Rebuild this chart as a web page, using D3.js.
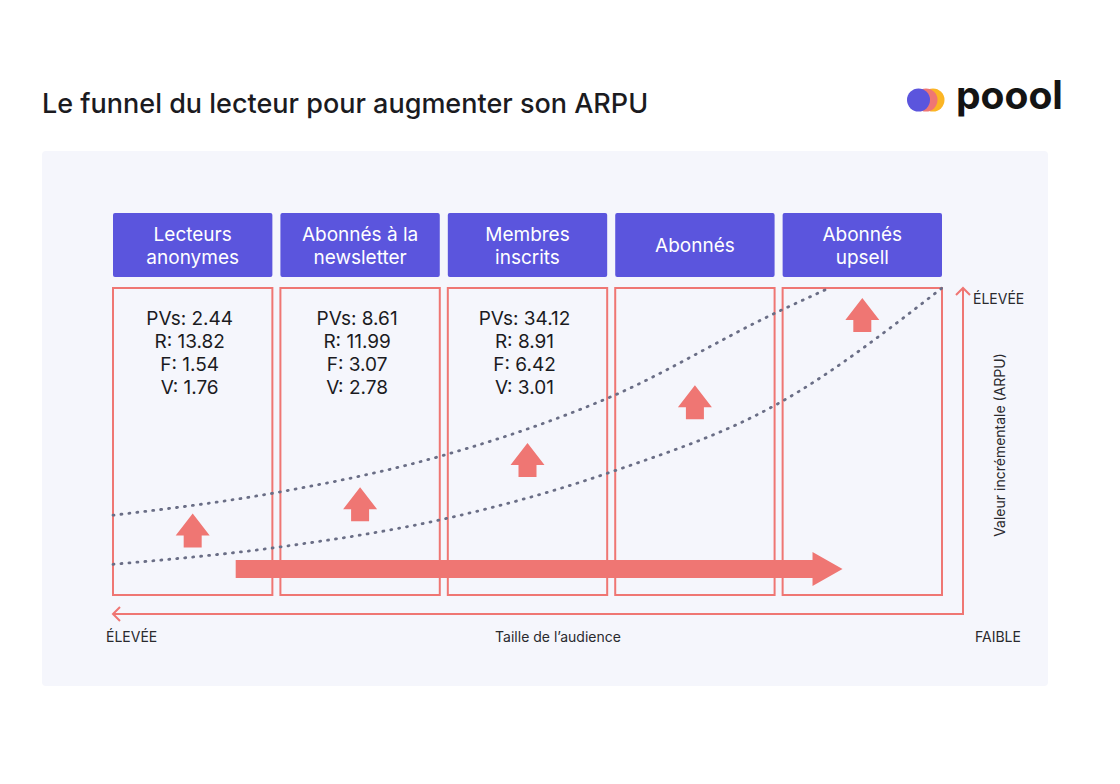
<!DOCTYPE html>
<html lang="fr">
<head>
<meta charset="UTF-8"/>
<title>Le funnel du lecteur</title>
<script src="https://cdn.jsdelivr.net/npm/d3@7"></script>
<style>
    body { margin: 0; background: #ffffff; }
    text { font-family: Inter, "Noto Sans", sans-serif; }
    .title { font-size: 27px; font-weight: 500; fill: #1b1b1f; }
    .stage { font-size: 19px; fill: #ffffff; }
    .metric { font-size: 19px; fill: #1b1b1f; }
    .axis-label { font-size: 14px; fill: #2a2a2e; }
    .curve { fill: none; stroke: #6a6e86; stroke-width: 2.8; stroke-linecap: round; stroke-dasharray: 1 7; }
</style>
</head>
<body>
<div id="chart"></div>
<script>
// stages of the funnel
var stageLines = [
    ["Lecteurs", "anonymes"],
    ["Abonnés à la", "newsletter"],
    ["Membres", "inscrits"],
    ["Abonnés"],
    ["Abonnés", "upsell"]
];
var pvs = [2.44, 8.61, 34.12, null, null];
var rec = [13.82, 11.99, 8.91, null, null];
var freq = [1.54, 3.07, 6.42, null, null];
var vol = [1.76, 2.78, 3.01, null, null];

// dotted ARPU curves (position in stages, value 0-100)
var upperPos = [0, 1, 2, 3, 4, 4.32];
var upperVal = [26, 33.5, 45.6, 64.5, 92, 100];
var lowerPos = [0, 1, 2, 3, 4, 5];
var lowerVal = [10, 15.6, 24.8, 40, 62, 100];

// up arrows, one per stage (center level)
var arrowVal = [21, 29.6, 44, 62.8, 91.2];

// horizontal flow arrow
var flowFrom = 0.74, flowTo = 4.4, flowLevel = 8.5;

var W = 1120, H = 784;
var red = "#ef7673", purple = "#5b55dd";

var svg = d3.select("#chart").append("svg")
    .attr("width", W).attr("height", H);

svg.append("text").attr("class", "title")
    .attr("x", 42).attr("y", 113)
    .text("Le funnel du lecteur pour augmenter son ARPU");

// logo
var logo = svg.append("g");
logo.append("circle").attr("cx", 933).attr("cy", 100).attr("r", 11.5).attr("fill", "#fbb524");
logo.append("circle").attr("cx", 926).attr("cy", 100).attr("r", 11.5).attr("fill", "#ef7673");
logo.append("circle").attr("cx", 918.5).attr("cy", 100).attr("r", 11.5).attr("fill", "#5b55dd");
logo.append("text").attr("x", 956).attr("y", 109)
    .style("font-size", "39px").style("font-weight", 700).style("fill", "#141414")
    .text("poool");

// panel
svg.append("rect").attr("x", 42).attr("y", 151).attr("width", 1006).attr("height", 535)
    .attr("rx", 4).attr("fill", "#f5f6fc");

var x = d3.scaleBand().domain(d3.range(stageLines.length))
    .range([113, 942]).paddingInner(0.048).paddingOuter(0);
var pos = d3.scaleLinear().domain([0, 5]).range([113, 942]);
var y = d3.scaleLinear().domain([0, 100]).range([595, 288]);

// header boxes
var head = svg.selectAll("g.head").data(stageLines).enter().append("g").attr("class", "head");
head.append("rect")
    .attr("x", function(d, i) { return x(i); })
    .attr("y", 213)
    .attr("width", x.bandwidth()).attr("height", 64)
    .attr("rx", 2).attr("fill", purple);
head.each(function(d, i) {
    var g = d3.select(this);
    var base = d.length == 1 ? 252 : 241;
    d.forEach(function(line, j) {
        g.append("text").attr("class", "stage")
            .attr("x", x(i) + x.bandwidth() / 2)
            .attr("y", base + j * 23)
            .attr("text-anchor", "middle")
            .text(line);
    });
});

// red boxes
svg.selectAll("rect.col").data(stageLines).enter().append("rect")
    .attr("class", "col")
    .attr("x", function(d, i) { return x(i); })
    .attr("y", y(100))
    .attr("width", x.bandwidth()).attr("height", y(0) - y(100))
    .attr("fill", "none").attr("stroke", red).attr("stroke-width", 2);

// metrics
var fmt = d3.format(".2f");
stageLines.forEach(function(d, i) {
    if (pvs[i] == null) return;
    var lines = ["PVs: " + fmt(pvs[i]), "R: " + fmt(rec[i]), "F: " + fmt(freq[i]), "V: " + fmt(vol[i])];
    lines.forEach(function(t, j) {
        svg.append("text").attr("class", "metric")
            .attr("x", x(i) + x.bandwidth() / 2 - 3)
            .attr("y", 325 + j * 23)
            .attr("text-anchor", "middle")
            .text(t);
    });
});

// dotted curves
var line = d3.line().curve(d3.curveMonotoneX)
    .x(function(d) { return pos(d[0]); })
    .y(function(d) { return y(d[1]); });
svg.append("path").attr("class", "curve").attr("d", line(d3.zip(upperPos, upperVal)));
svg.append("path").attr("class", "curve").attr("d", line(d3.zip(lowerPos, lowerVal)));

// up arrows
svg.selectAll("path.up").data(arrowVal).enter().append("path")
    .attr("class", "up")
    .attr("fill", red)
    .attr("d", function(v, i) {
        var cx = x(i) + x.bandwidth() / 2, cy = y(v);
        return "M" + cx + "," + (cy - 17) +
            "L" + (cx + 17) + "," + (cy + 5) +
            "L" + (cx + 9) + "," + (cy + 5) +
            "L" + (cx + 9) + "," + (cy + 17) +
            "L" + (cx - 9) + "," + (cy + 17) +
            "L" + (cx - 9) + "," + (cy + 5) +
            "L" + (cx - 17) + "," + (cy + 5) + "Z";
    });

// flow arrow
var fx0 = pos(flowFrom), fx1 = pos(flowTo), fy = y(flowLevel);
svg.append("path").attr("fill", red)
    .attr("d", "M" + fx0 + "," + (fy - 9) + "L" + (fx1 - 30) + "," + (fy - 9) +
        "L" + (fx1 - 30) + "," + (fy - 17) + "L" + fx1 + "," + fy +
        "L" + (fx1 - 30) + "," + (fy + 17) + "L" + (fx1 - 30) + "," + (fy + 9) +
        "L" + fx0 + "," + (fy + 9) + "Z");

// axes frame
var ax = 963, ay = 614;
svg.append("path").attr("fill", "none").attr("stroke", red).attr("stroke-width", 2)
    .attr("d", "M113," + ay + "L" + ax + "," + ay + "L" + ax + ",288");
svg.append("path").attr("fill", "none").attr("stroke", red).attr("stroke-width", 2)
    .attr("d", "M120," + (ay - 7) + "L113," + ay + "L120," + (ay + 7));
svg.append("path").attr("fill", "none").attr("stroke", red).attr("stroke-width", 2)
    .attr("d", "M" + (ax - 7) + ",295L" + ax + ",288L" + (ax + 7) + ",295");

svg.append("text").attr("class", "axis-label").attr("x", 973).attr("y", 304).text("ÉLEVÉE");
svg.append("text").attr("class", "axis-label").attr("x", 106).attr("y", 642).text("ÉLEVÉE");
svg.append("text").attr("class", "axis-label").attr("x", 558).attr("y", 642)
    .attr("text-anchor", "middle").text("Taille de l’audience");
svg.append("text").attr("class", "axis-label").attr("x", 998).attr("y", 642)
    .attr("text-anchor", "middle").text("FAIBLE");
svg.append("text").attr("class", "axis-label")
    .attr("transform", "translate(1005,445) rotate(-90)")
    .attr("text-anchor", "middle").text("Valeur incrémentale (ARPU)");
</script>
</body>
</html>
